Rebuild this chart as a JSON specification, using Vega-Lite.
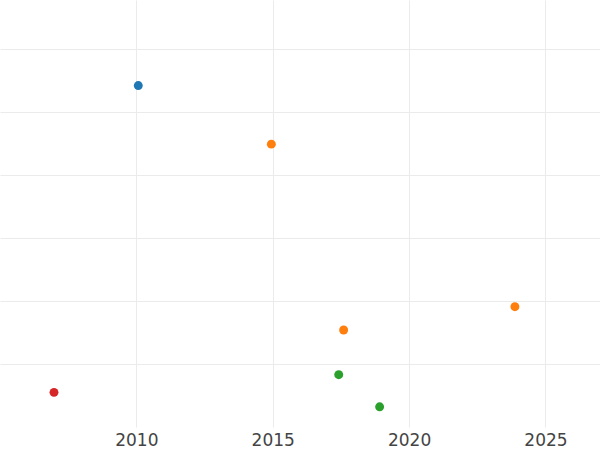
{
  "$schema": "https://vega.github.io/schema/vega-lite/v6.json",
  "width": 600,
  "height": 427,
  "autosize": {"type": "none"},
  "padding": {"left": 0, "top": 0, "right": 0, "bottom": 23},
  "background": "white",
  "config": {"view": {"stroke": null}},
  "data": {
    "values": [
      {"year": 2010.07, "value": 5.42, "group": "A"},
      {"year": 2014.95, "value": 4.49, "group": "B"},
      {"year": 2017.6, "value": 1.54, "group": "B"},
      {"year": 2023.88, "value": 1.91, "group": "B"},
      {"year": 2017.42, "value": 0.83, "group": "C"},
      {"year": 2018.92, "value": 0.32, "group": "C"},
      {"year": 2006.98, "value": 0.55, "group": "D"}
    ]
  },
  "mark": {"type": "point", "filled": true, "size": 80, "opacity": 1},
  "encoding": {
    "x": {
      "field": "year",
      "type": "quantitative",
      "scale": {"domain": [2005, 2027], "nice": false, "zero": false},
      "axis": {
        "title": null,
        "values": [2010, 2015, 2020, 2025],
        "format": "d",
        "domain": false,
        "ticks": false,
        "grid": true,
        "gridColor": "#ebebeb",
        "labelFont": "DejaVu Sans",
        "labelFontSize": 17,
        "labelColor": "#444444",
        "labelPadding": 5
      }
    },
    "y": {
      "field": "value",
      "type": "quantitative",
      "scale": {"domain": [0, 6.778], "nice": false, "zero": false},
      "axis": {
        "title": null,
        "values": [1, 2, 3, 4, 5, 6],
        "labels": false,
        "domain": false,
        "ticks": false,
        "grid": true,
        "gridColor": "#ebebeb"
      }
    },
    "color": {
      "field": "group",
      "type": "nominal",
      "scale": {"domain": ["A", "B", "C", "D"], "range": ["#1f77b4", "#ff7f0e", "#2ca02c", "#d62728"]},
      "legend": null
    }
  }
}
